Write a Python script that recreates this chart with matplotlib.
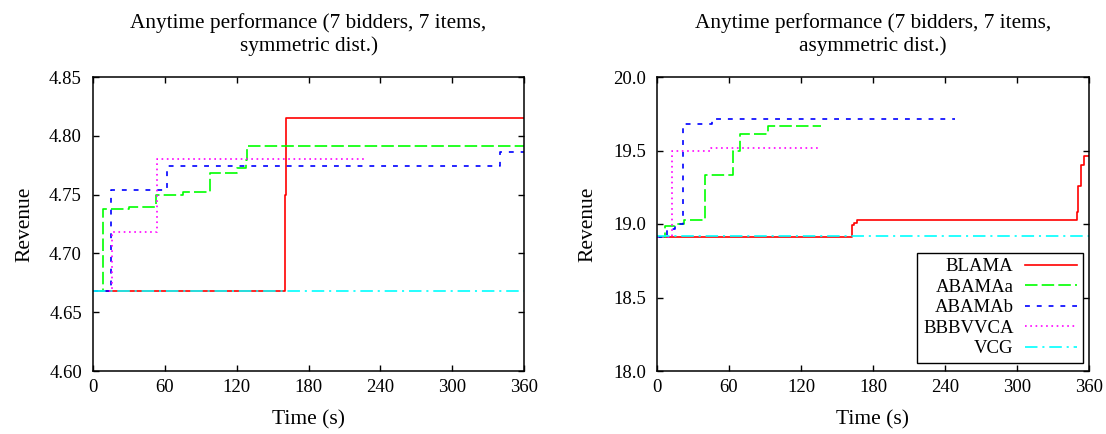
import matplotlib
matplotlib.use("Agg")
import matplotlib.pyplot as plt
from matplotlib.ticker import FormatStrFormatter

plt.rcParams['font.family'] = ['Liberation Serif', 'DejaVu Serif']
plt.rcParams['font.size'] = 13.5
plt.rcParams['lines.scale_dashes'] = False

# ---- Left chart (symmetric) ----
sym_blama_t = [0, 160, 161.4, 360]
sym_blama_v = [4.668, 4.750, 4.815, 4.815]
sym_abamaa_t = [0, 8, 30, 53, 75, 98, 120, 127.5, 128.5, 360]
sym_abamaa_v = [4.668, 4.738, 4.7395, 4.750, 4.752, 4.768, 4.773, 4.779, 4.791, 4.791]
sym_abamab_t = [0, 15, 61.4, 339.7, 360]
sym_abamab_v = [4.668, 4.7537, 4.774, 4.786, 4.786]
sym_bbbvvca_t = [0, 16, 53.3, 227.5]
sym_bbbvvca_v = [4.668, 4.718, 4.780, 4.780]
sym_vcg_t = [0, 360]
sym_vcg_v = [4.668, 4.668]

# ---- Right chart (asymmetric) ----
asym_blama_t = [0, 162.8, 163.9, 166.7, 350.0, 350.8, 353.3, 355.6, 360]
asym_blama_v = [18.914, 18.99, 19.01, 19.03, 19.08, 19.257, 19.40, 19.46, 19.46]
asym_abamaa_t = [0, 7, 15, 22.5, 39.7, 63.3, 68.9, 92.5, 137]
asym_abamaa_v = [18.914, 18.986, 18.998, 19.03, 19.336, 19.498, 19.609, 19.67, 19.67]
asym_abamab_t = [0, 8, 15, 21.7, 45.8, 248]
asym_abamab_v = [18.914, 18.965, 18.998, 19.677, 19.714, 19.714]
asym_bbbvvca_t = [0, 12.8, 45, 135.6]
asym_bbbvvca_v = [18.914, 19.498, 19.516, 19.516]
asym_vcg_t = [0, 360]
asym_vcg_v = [18.915, 18.915]

labels = ["BLAMA", "ABAMAa", "ABAMAb", "BBBVVCA", "VCG"]
colors = ["#ff0000", "#00ff00", "#0000ff", "#ff00ff", "#00ffff"]
dashes = [None, (9, 3), (3.5, 5), (1.2, 2.6), (9, 3.5, 1.5, 3.5)]

xticks = [0, 60, 120, 180, 240, 300, 360]

fig = plt.figure(figsize=(11.06, 4.34), dpi=100)
ax1 = fig.add_axes([93/1106, 63/434, (524-93)/1106, (371-77)/434])
ax2 = fig.add_axes([657/1106, 63/434, (1089-657)/1106, (371-77)/434])

def draw(ax, series, title):
    for (t, v), lab, c, d in zip(series, labels, colors, dashes):
        line, = ax.step(t, v, where='post', color=c, lw=1.2, label=lab)
        if d is not None:
            line.set_dashes(d)
    ax.set_xlim(0, 360)
    ax.set_xticks(xticks)
    ax.tick_params(direction='in', length=4.5, width=1.0, top=True, right=True)
    ax.tick_params(axis='x', pad=6)
    ax.tick_params(axis='y', pad=8)
    for s in ax.spines.values():
        s.set_linewidth(1.1)
    ax.set_xlabel("Time (s)", fontsize=15.5)
    ax.set_ylabel("Revenue", fontsize=15.5)
    ax.xaxis.set_label_coords(0.5, -0.135)
    ax.yaxis.set_label_coords(-0.137, 0.5)
    ax.set_title(title, pad=19, linespacing=1.2, fontsize=15.3)

draw(ax1, [(sym_blama_t, sym_blama_v), (sym_abamaa_t, sym_abamaa_v),
           (sym_abamab_t, sym_abamab_v), (sym_bbbvvca_t, sym_bbbvvca_v),
           (sym_vcg_t, sym_vcg_v)],
     "Anytime performance (7 bidders, 7 items,\nsymmetric dist.)")
ax1.set_ylim(4.60, 4.85)
ax1.set_yticks([4.60, 4.65, 4.70, 4.75, 4.80, 4.85])
ax1.yaxis.set_major_formatter(FormatStrFormatter('%.2f'))

draw(ax2, [(asym_blama_t, asym_blama_v), (asym_abamaa_t, asym_abamaa_v),
           (asym_abamab_t, asym_abamab_v), (asym_bbbvvca_t, asym_bbbvvca_v),
           (asym_vcg_t, asym_vcg_v)],
     "Anytime performance (7 bidders, 7 items,\nasymmetric dist.)")
ax2.set_ylim(18.0, 20.0)
ax2.set_yticks([18.0, 18.5, 19.0, 19.5, 20.0])
ax2.yaxis.set_major_formatter(FormatStrFormatter('%.1f'))

leg = ax2.legend(loc='lower right', bbox_to_anchor=(0.986, 0.027), borderaxespad=0,
                 markerfirst=False, handlelength=2.8, fancybox=False, framealpha=1,
                 edgecolor='black', borderpad=0.3, labelspacing=0.18, handletextpad=0.6,
                 fontsize=13.5)
leg.get_frame().set_linewidth(1.0)

fig.savefig("out.png", dpi=100)
